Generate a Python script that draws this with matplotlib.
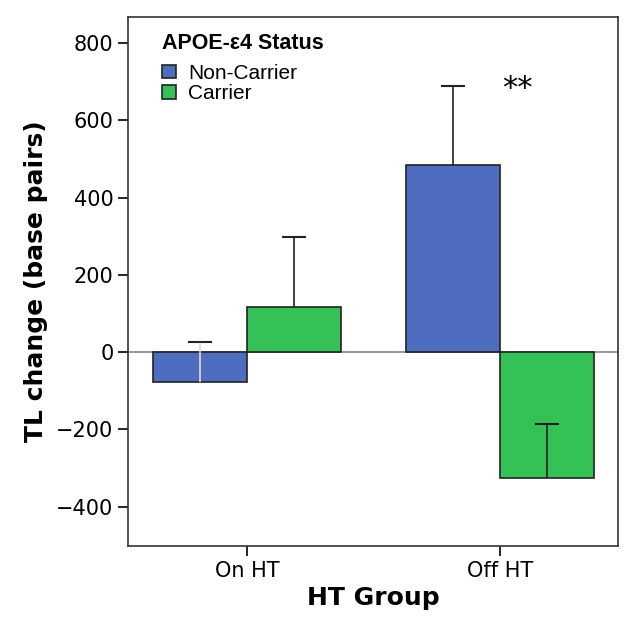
import numpy as np
import matplotlib.pyplot as plt
from matplotlib.ticker import MultipleLocator

groups = ["On HT", "Off HT"]
series = ["Non-Carrier", "Carrier"]
means = {"Non-Carrier": [-78, 484], "Carrier": [117, -326]}
upper_err = {"Non-Carrier": [104, 205], "Carrier": [181, 139]}
colors = {"Non-Carrier": "#4e6dbf", "Carrier": "#34c257"}

fig = plt.figure(figsize=(6.26, 6.27), dpi=100)
ax = fig.add_axes([0.2045, 0.129, 0.7825, 0.844])

x = np.arange(len(groups))
w = 0.37
offsets = [-w / 2, w / 2]

for s, off in zip(series, offsets):
    ax.bar(x + off, means[s], w, color=colors[s], edgecolor="#222222",
           linewidth=1.2, label=s, zorder=2)

# error bars drawn upward only, SPSS style
for s, off in zip(series, offsets):
    for i in range(len(groups)):
        m = means[s][i]
        e = upper_err[s][i]
        pl, caps, bars = ax.errorbar(x[i] + off, m, yerr=[[0], [e]], fmt="none",
                                     ecolor="#222222", elinewidth=1.2,
                                     capsize=8.5, capthick=1.5, zorder=3)
        caps[0].set_visible(False)  # no cap at the bar end
        if m < 0 and m + e > 0:
            bars[0].set_color("#dddddd")

ax.axhline(0, color="#888888", linewidth=1.2, zorder=1)

ax.text(1.07, 684, "**", ha="center", va="center", fontsize=22)

ax.set_xlim(-0.47, 1.466)
ax.set_ylim(-502, 868)
ax.set_xticks(x)
ax.set_xticklabels(groups, fontsize=15)
ax.set_yticks([-400, -200, 0, 200, 400, 600, 800])
ax.set_yticklabels(["\u2212400", "\u2212200", "0", "200", "400", "600", "800"],
                   fontsize=15)
ax.yaxis.set_minor_locator(MultipleLocator(100))
ax.tick_params(axis="y", which="major", length=7, width=1.2, direction="out")
ax.tick_params(axis="y", which="minor", length=0)
ax.tick_params(axis="x", length=7, width=1.2, direction="out")
for sp in ax.spines.values():
    sp.set_linewidth(1.2)
    sp.set_color("#333333")

ax.set_ylabel("TL change (base pairs)", fontsize=18, fontweight="bold", labelpad=6)
ax.set_xlabel("HT Group", fontsize=18, fontweight="bold", labelpad=4)

leg = ax.legend(loc="upper left", bbox_to_anchor=(0.04, 0.997), frameon=False,
                title="APOE-\u03b54 Status", fontsize=15, handlelength=0.65,
                handleheight=0.65, handletextpad=0.6, labelspacing=0.08,
                borderpad=0.2)
leg.get_title().set_fontweight("bold")
leg.get_title().set_fontsize(15.5)
leg.get_title().set_family("Liberation Sans")
leg._legend_box.align = "left"
leg._legend_box.sep = 7
for t in leg.get_texts():
    t.set_family("Liberation Sans")

fig.savefig("out.png", dpi=100)
